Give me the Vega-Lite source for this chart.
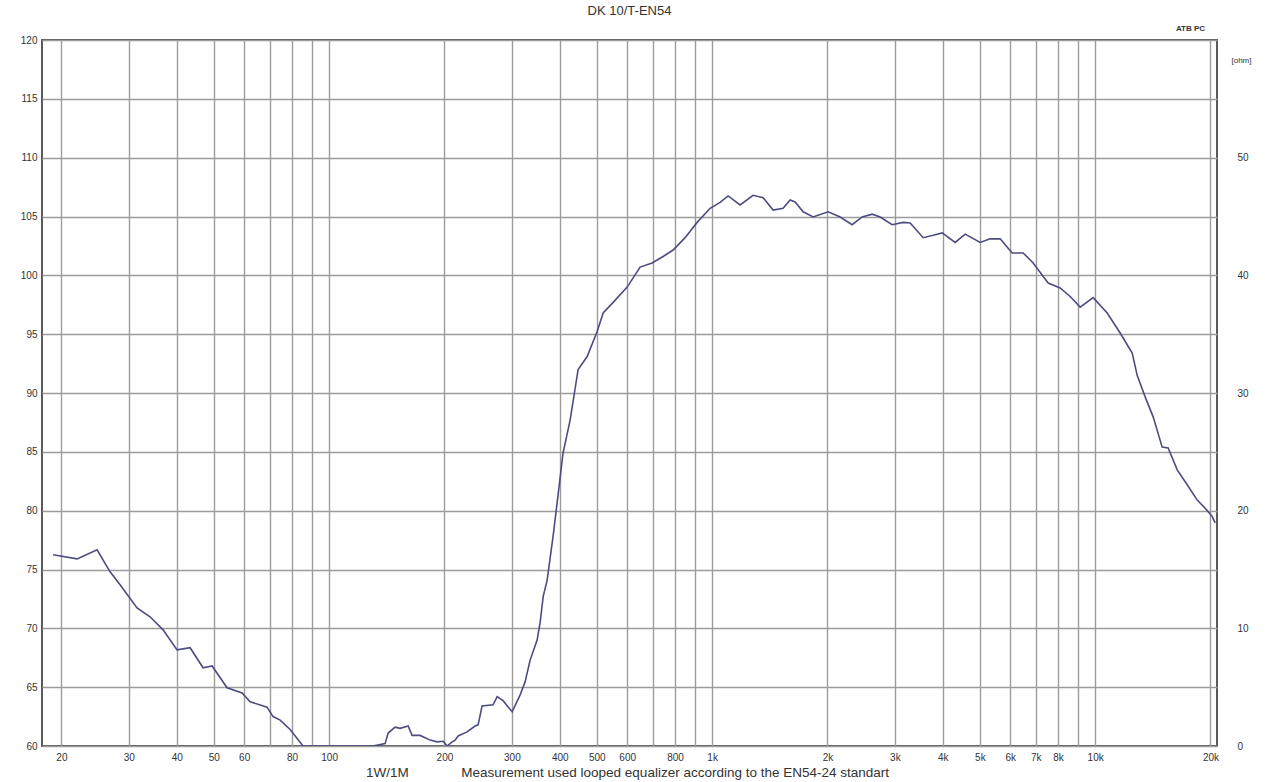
{
  "$schema": "https://vega.github.io/schema/vega-lite/v6.json",
  "width": 1175,
  "height": 706,
  "autosize": "none",
  "padding": {"left": 42, "top": 40, "right": 48, "bottom": 36},
  "background": "white",
  "config": {
    "font": "Liberation Sans",
    "view": {"stroke": "#5a5a5a", "strokeWidth": 2},
    "axis": {"labelFont": "Liberation Sans", "titleFont": "Liberation Sans", "labelColor": "#333", "titleColor": "#333", "ticks": false, "domain": false, "labelFontSize": 10}
  },
  "title": {"text": "DK 10/T-EN54", "fontSize": 13, "fontWeight": "normal", "color": "#333", "offset": 6, "anchor": "middle", "font": "Liberation Sans"},
  "data": {
    "values": [
      {"f": 19.03, "db": 76.25}, {"f": 21.98, "db": 75.9}, {"f": 24.79, "db": 76.67}, {"f": 26.8, "db": 74.8},
      {"f": 28.46, "db": 73.7}, {"f": 31.52, "db": 71.74}, {"f": 34.08, "db": 70.98}, {"f": 36.86, "db": 69.87},
      {"f": 40.09, "db": 68.17}, {"f": 43.36, "db": 68.35}, {"f": 46.88, "db": 66.65}, {"f": 49.5, "db": 66.8},
      {"f": 54.15, "db": 64.95}, {"f": 59.27, "db": 64.5}, {"f": 62.2, "db": 63.76}, {"f": 68.86, "db": 63.3},
      {"f": 71.4, "db": 62.5}, {"f": 74.5, "db": 62.2}, {"f": 79.1, "db": 61.4}, {"f": 85.5, "db": 60.0},
      {"f": 130, "db": 60.0}, {"f": 140, "db": 60.2}, {"f": 142.6, "db": 61.1}, {"f": 148.7, "db": 61.6},
      {"f": 153.3, "db": 61.5}, {"f": 160.8, "db": 61.7}, {"f": 164.7, "db": 60.9}, {"f": 172.8, "db": 60.9},
      {"f": 183.6, "db": 60.5}, {"f": 191.4, "db": 60.35}, {"f": 198.5, "db": 60.4}, {"f": 203.3, "db": 60.0},
      {"f": 209.5, "db": 60.35}, {"f": 213.3, "db": 60.5}, {"f": 217.2, "db": 60.85}, {"f": 229.2, "db": 61.2},
      {"f": 240.5, "db": 61.7}, {"f": 244.9, "db": 61.8}, {"f": 250.8, "db": 63.4}, {"f": 268, "db": 63.5},
      {"f": 274.6, "db": 64.2}, {"f": 284.6, "db": 63.85}, {"f": 300.5, "db": 62.9}, {"f": 315.3, "db": 64.35},
      {"f": 324.9, "db": 65.45}, {"f": 334.8, "db": 67.3}, {"f": 349.2, "db": 69.0}, {"f": 355.6, "db": 70.5},
      {"f": 362.1, "db": 72.7}, {"f": 370.9, "db": 74.1}, {"f": 385, "db": 78.0}, {"f": 401, "db": 82.8},
      {"f": 408, "db": 84.9}, {"f": 425.8, "db": 87.7}, {"f": 446.8, "db": 92.0}, {"f": 471.7, "db": 93.1},
      {"f": 500.7, "db": 95.2}, {"f": 519.3, "db": 96.8}, {"f": 551.5, "db": 97.7}, {"f": 600, "db": 99.0},
      {"f": 648.6, "db": 100.7}, {"f": 697.2, "db": 101.05}, {"f": 744.6, "db": 101.6}, {"f": 791, "db": 102.15},
      {"f": 850, "db": 103.2}, {"f": 913.7, "db": 104.5}, {"f": 988, "db": 105.7}, {"f": 1049, "db": 106.2},
      {"f": 1101, "db": 106.75}, {"f": 1183, "db": 105.98}, {"f": 1279, "db": 106.8}, {"f": 1359, "db": 106.6},
      {"f": 1443, "db": 105.55}, {"f": 1532, "db": 105.7}, {"f": 1598, "db": 106.4}, {"f": 1647, "db": 106.24},
      {"f": 1728, "db": 105.4}, {"f": 1835, "db": 104.96}, {"f": 2008, "db": 105.4}, {"f": 2159, "db": 104.96},
      {"f": 2320, "db": 104.3}, {"f": 2464, "db": 104.96}, {"f": 2617, "db": 105.2}, {"f": 2746, "db": 104.96},
      {"f": 2951, "db": 104.3}, {"f": 3153, "db": 104.5}, {"f": 3289, "db": 104.45}, {"f": 3556, "db": 103.2},
      {"f": 3776, "db": 103.4}, {"f": 3987, "db": 103.6}, {"f": 4311, "db": 102.8}, {"f": 4578, "db": 103.5},
      {"f": 5008, "db": 102.8}, {"f": 5318, "db": 103.1}, {"f": 5649, "db": 103.1}, {"f": 6071, "db": 101.9},
      {"f": 6486, "db": 101.9}, {"f": 6888, "db": 101.05}, {"f": 7539, "db": 99.35}, {"f": 8102, "db": 98.93},
      {"f": 8605, "db": 98.2}, {"f": 9138, "db": 97.3}, {"f": 9880, "db": 98.1}, {"f": 10748, "db": 96.8},
      {"f": 11621, "db": 95.1}, {"f": 12493, "db": 93.4}, {"f": 12873, "db": 91.5}, {"f": 13504, "db": 89.67},
      {"f": 14171, "db": 87.97}, {"f": 14960, "db": 85.4}, {"f": 15509, "db": 85.33}, {"f": 16375, "db": 83.47},
      {"f": 17389, "db": 82.2}, {"f": 18467, "db": 80.9}, {"f": 19375, "db": 80.2}, {"f": 20209, "db": 79.5},
      {"f": 20578, "db": 78.96}
    ]
  },
  "layer": [
    {
      "mark": {"type": "line", "color": "#4c4c82", "strokeWidth": 1.6, "clip": true},
      "encoding": {
        "x": {
          "field": "f", "type": "quantitative",
          "scale": {"type": "log", "domain": [17.8, 20800], "nice": false},
          "axis": {
            "orient": "bottom",
            "values": [20, 30, 40, 50, 60, 70, 80, 90, 100, 200, 300, 400, 500, 600, 700, 800, 900, 1000, 2000, 3000, 4000, 5000, 6000, 7000, 8000, 9000, 10000, 20000],
            "labelExpr": "indexof([70, 90, 700, 900, 9000], datum.value) >= 0 ? '' : (datum.value >= 1000 ? format(datum.value / 1000, 'd') + 'k' : format(datum.value, 'd'))",
            "labelFontSize": 10, "labelPadding": 6, "labelFlush": false, "labelOverlap": false,
            "grid": true, "gridColor": "#9c9c9c", "gridWidth": 1.4,
            "title": "1W/1M\u00a0\u00a0\u00a0\u00a0\u00a0\u00a0\u00a0\u00a0\u00a0\u00a0\u00a0\u00a0\u00a0\u00a0Measurement used looped equalizer according to the EN54-24 standart",
            "titleFontSize": 13.5, "titleFontWeight": "normal", "titlePadding": 0, "titleX": 585, "titleY": 19
          }
        },
        "y": {
          "field": "db", "type": "quantitative",
          "scale": {"domain": [60, 120], "nice": false, "zero": false},
          "axis": {
            "orient": "left", "values": [60, 65, 70, 75, 80, 85, 90, 95, 100, 105, 110, 115, 120],
            "labelFontSize": 10, "labelPadding": 5, "labelFlush": false,
            "grid": true, "gridColor": "#9c9c9c", "gridWidth": 1.4, "title": null
          }
        }
      }
    },
    {
      "mark": {"type": "line", "opacity": 0},
      "encoding": {
        "x": {
          "field": "f", "type": "quantitative",
          "scale": {"type": "log", "domain": [17.8, 20800], "nice": false},
          "axis": {"orient": "top", "labels": false, "grid": false, "values": [],
            "title": "ATB PC", "titleFontSize": 8, "titleFontWeight": "bold", "titleX": 1148, "titleY": -12, "titleAlign": "center", "titleBaseline": "middle"}
        },
        "y": {
          "field": "db", "type": "quantitative",
          "scale": {"domain": [60, 120], "nice": false, "zero": false},
          "axis": {
            "orient": "right", "values": [60, 70, 80, 90, 100, 110],
            "labelExpr": "format(datum.value - 60, 'd')", "labelFontSize": 10, "labelPadding": 20, "labelAlign": "left", "labelFlush": false,
            "grid": false,
            "title": "[ohm]", "titleAngle": 0, "titleFontSize": 8, "titleFontWeight": "normal", "titleX": 24, "titleY": 20, "titleAlign": "center", "titleBaseline": "middle"
          }
        }
      }
    }
  ],
  "resolve": {"scale": {"x": "independent", "y": "independent"}, "axis": {"x": "independent", "y": "independent"}}
}
